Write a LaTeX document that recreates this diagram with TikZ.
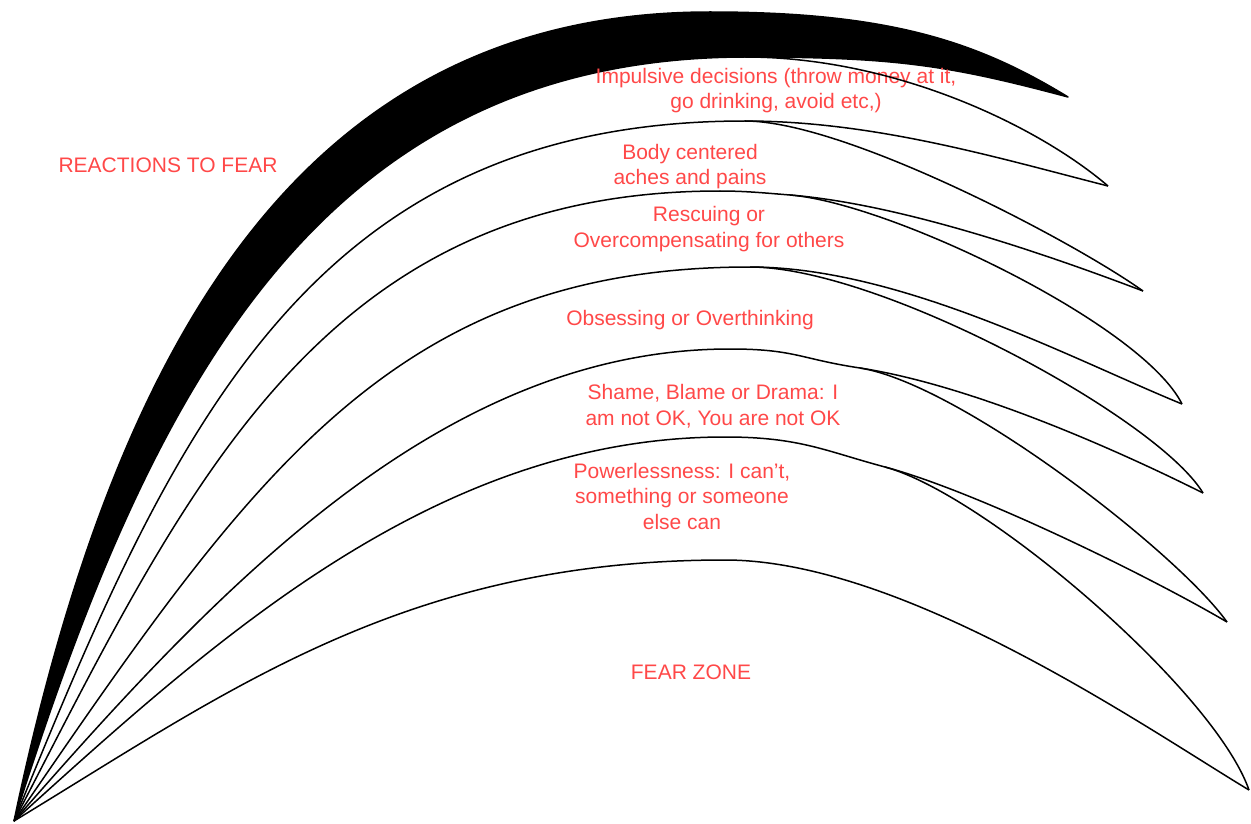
\documentclass[tikz,border=0pt]{standalone}
\usepackage{fontspec}
\setmainfont{Liberation Sans}
\definecolor{lbl}{RGB}{255,72,72}
\begin{document}
\begin{tikzpicture}[x=1pt,y=-1pt,
  curve/.style={line width=1.5pt, black, line join=round},
  lab/.style={text=lbl, font=\fontsize{21}{25.5}\selectfont, align=center, inner sep=0pt, anchor=base}]
\useasboundingbox (0,0) rectangle (1251,824);
% key points: origin, peaks (P), branch points (B), tips (T)
\coordinate (O) at (14,821);
\coordinate (Q1) at (710,12);
\coordinate (B1) at (745,57);
\coordinate (B2) at (745,121);
\coordinate (P3) at (720,191);
\coordinate (B3) at (790,195);
\coordinate (B4) at (750,267);
\coordinate (P5) at (730,349);
\coordinate (B5) at (860,368);
\coordinate (P6) at (725,437);
\coordinate (B6) at (885,467);
\coordinate (P7) at (725,560);
\coordinate (T1) at (1068,97);
\coordinate (T2) at (1108,186);
\coordinate (T3) at (1143,291);
\coordinate (T4) at (1182,404);
\coordinate (T5) at (1203,493);
\coordinate (T6) at (1227,622);
\coordinate (T7) at (1249,790);
% black crescent
\filldraw[curve, fill=black] (O) .. controls (114,346) and (300,12) .. (Q1)
  .. controls +(180,0) and +(-90,-55) .. (T1)
  .. controls +(-120,-32) and +(150,0) .. (B1)
  .. controls (318,58) and (150,390) .. (O) -- cycle;
% labels (base = baseline of the last line)
\node[lab] (react) at (168,173) {REACTIONS TO FEAR};
\node[lab] (imp) at (776,109) {Impulsive decisions (throw money at it,\\go drinking, avoid etc,)};
\node[lab] (body) at (690,185) {Body centered\\aches and pains};
\node[lab] (resc) at (709,247) {Rescuing or\\Overcompensating for others};
\node[lab] (obs) at (690,325) {Obsessing or Overthinking};
\node[lab] (shame) at (713,425) {Shame, Blame or Drama: I\\am not OK, You are not OK};
\node[lab] (power) at (682,529) {Powerlessness: I can’t,\\something or someone\\else can};
\node[lab] (fear) at (691,679) {FEAR ZONE};
% crescent 2
\draw[curve] (B1) .. controls +(150,0) and +(-70,-60) .. (T2);
\draw[curve] (O) .. controls (172,432) and (308,121) .. (B2) .. controls +(130,0) and +(-110,-28) .. (T2);
% crescent 3
\draw[curve] (B2) .. controls +(100,0) and +(-70,-50) .. (T3);
\draw[curve] (O) .. controls (187,487) and (320,191) .. (P3) .. controls +(25,0) and +(-25,-2) .. (B3)
  .. controls +(110,9) and +(-100,-38) .. (T3);
% crescent 4
\draw[curve] (B3) .. controls +(100,8) and +(-40,-80) .. (T4);
\draw[curve] (O) .. controls (249,479) and (390,267) .. (B4) .. controls +(150,0) and +(-110,-45) .. (T4);
% crescent 5
\draw[curve] (B4) .. controls +(130,0) and +(-45,-75) .. (T5);
\draw[curve] (O) .. controls (216,590) and (440,349) .. (P5) .. controls +(65,0) and +(-60,-9) .. (B5)
  .. controls +(110,17) and +(-90,-45) .. (T5);
% crescent 6
\draw[curve] (B5) .. controls +(100,16) and +(-50,-70) .. (T6);
\draw[curve] (O) .. controls (213,641) and (435,437) .. (P6) .. controls +(75,0) and +(-60,-16) .. (B6)
  .. controls +(90,24) and +(-80,-47) .. (T6);
% crescent 7 (fear zone)
\draw[curve] (B6) .. controls +(100,27) and +(-35,-100) .. (T7);
\draw[curve] (O) .. controls (230,690) and (405,560) .. (P7) .. controls +(180,0) and +(-100,-60) .. (T7);
\end{tikzpicture}
\end{document}
